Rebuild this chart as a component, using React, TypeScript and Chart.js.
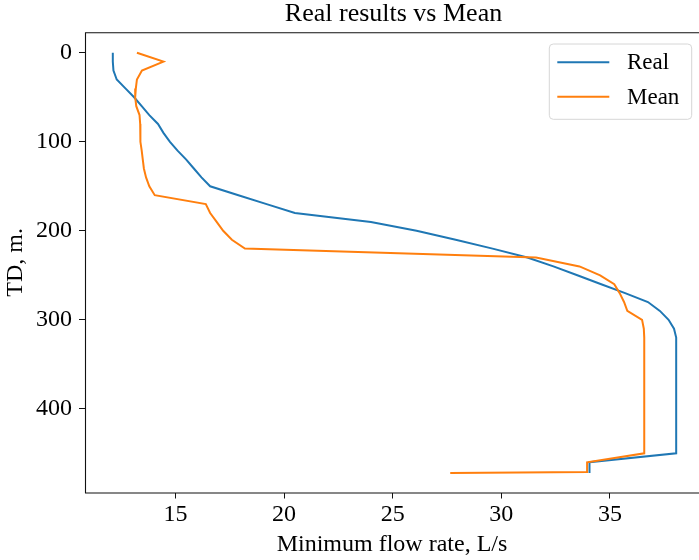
import React, { useEffect, useRef } from "react";
import { Chart, registerables } from "chart.js";

Chart.register(...registerables);

const depths = [
  0, 10, 20, 30, 40, 50, 60, 70, 80, 90, 100, 110, 120, 130, 140, 150, 160, 170, 180, 190,
  200, 210, 220, 230, 240, 250, 260, 270, 280, 290, 300, 310, 320, 330, 340, 350, 360, 370,
  380, 390, 400, 410, 420, 430, 440, 450, 460, 471, 472,
];

const realFlow = [
  12.12, 12.12, 12.15, 12.3, 12.7, 13.1, 13.45, 13.8, 14.2, 14.45, 14.75, 15.1, 15.5, 15.85,
  16.2, 16.6, 17.9, 19.2, 20.5, 24.0, 26.1, 27.9, 29.6, 31.2, 32.4, 33.5, 34.6, 35.7, 36.75,
  37.3, 37.7, 37.95, 38.05, 38.05, 38.05, 38.05, 38.05, 38.05, 38.05, 38.05, 38.05, 38.05,
  38.05, 38.05, 38.05, 38.05, 34.06, 34.06, 34.06,
];

const meanFlow = [
  13.23, 14.45, 13.46, 13.23, 13.18, 13.15, 13.2, 13.35, 13.38, 13.38, 13.4, 13.45, 13.5,
  13.55, 13.65, 13.8, 14.05, 16.4, 16.6, 16.9, 17.2, 17.6, 18.2, 31.6, 33.6, 34.55, 35.2,
  35.45, 35.65, 35.8, 36.48, 36.56, 36.58, 36.58, 36.58, 36.58, 36.58, 36.58, 36.58, 36.58,
  36.58, 36.58, 36.58, 36.58, 36.58, 36.58, 33.95, 33.95, 27.65,
];

const seriesLabels = ["Real", "Mean"];
const seriesColors = ["#1f77b4", "#ff7f0e"];
const titleText = "Real results vs Mean";
const xTitle = "Minimum flow rate, L/s";
const yTitle = "TD, m.";

const FONT = "'Liberation Serif', 'Times New Roman', serif";

const framePlugin = {
  id: "frame",
  afterDraw(chart: any) {
    const { ctx, chartArea } = chart;
    const { left, right, top, bottom } = chartArea;
    ctx.save();
    ctx.strokeStyle = "#111";
    ctx.lineWidth = 1.1;
    ctx.beginPath();
    ctx.moveTo(left + 0.5, top + 0.5);
    ctx.lineTo(right + 2, top + 0.5);
    ctx.moveTo(left + 0.5, top);
    ctx.lineTo(left + 0.5, bottom + 0.5);
    ctx.lineTo(right + 2, bottom + 0.5);
    ctx.stroke();

    // title, centred over the (cropped) axes box
    ctx.fillStyle = "#000";
    ctx.font = `26px ${FONT}`;
    ctx.textAlign = "center";
    ctx.textBaseline = "alphabetic";
    ctx.fillText(titleText, left + 308.5, 21);

    // legend
    const bx = right - 149.7;
    const by = top + 11.7;
    const bw = 142.4;
    const bh = 75.3;
    const r = 4;
    ctx.beginPath();
    ctx.moveTo(bx + r, by);
    ctx.lineTo(bx + bw - r, by);
    ctx.arcTo(bx + bw, by, bx + bw, by + r, r);
    ctx.lineTo(bx + bw, by + bh - r);
    ctx.arcTo(bx + bw, by + bh, bx + bw - r, by + bh, r);
    ctx.lineTo(bx + r, by + bh);
    ctx.arcTo(bx, by + bh, bx, by + bh - r, r);
    ctx.lineTo(bx, by + r);
    ctx.arcTo(bx, by, bx + r, by, r);
    ctx.closePath();
    ctx.fillStyle = "rgba(255,255,255,0.8)";
    ctx.fill();
    ctx.strokeStyle = "#d6d6d6";
    ctx.lineWidth = 1;
    ctx.stroke();

    chart.data.datasets.forEach((ds: any, i: number) => {
      const y = by + 18.3 + i * 34.4;
      ctx.strokeStyle = ds.borderColor;
      ctx.lineWidth = 2;
      ctx.beginPath();
      ctx.moveTo(bx + 8, y);
      ctx.lineTo(bx + 60, y);
      ctx.stroke();
      ctx.fillStyle = "#000";
      ctx.font = `23px ${FONT}`;
      ctx.textBaseline = "middle";
      ctx.textAlign = "left";
      ctx.fillText(ds.label, bx + 77.7, y + 1);
    });
    ctx.restore();
  },
};

export default function App() {
  const ref = useRef<HTMLCanvasElement | null>(null);

  useEffect(() => {
    document.body.style.margin = "0";
    const canvas = ref.current;
    if (!canvas) return;
    Chart.defaults.font.family = FONT;
    Chart.defaults.font.size = 24;
    Chart.defaults.color = "#000";

    const chart = new Chart(canvas, {
      type: "line",
      data: {
        datasets: [
          {
            label: seriesLabels[0],
            data: depths.map((d, i) => ({ x: realFlow[i], y: d })),
            borderColor: seriesColors[0],
            backgroundColor: seriesColors[0],
            borderWidth: 2,
            pointRadius: 0,
            tension: 0,
            fill: false,
            order: 1,
          },
          {
            label: seriesLabels[1],
            data: depths.map((d, i) => ({ x: meanFlow[i], y: d })),
            borderColor: seriesColors[1],
            backgroundColor: seriesColors[1],
            borderWidth: 2,
            pointRadius: 0,
            tension: 0,
            fill: false,
            order: 0,
          },
        ],
      },
      options: {
        responsive: false,
        animation: false,
        devicePixelRatio: 1,
        layout: { padding: { left: 0, right: 0, top: 32.3, bottom: 0 } },
        plugins: {
          legend: { display: false },
          tooltip: { enabled: false },
          title: { display: false },
        },
        scales: {
          x: {
            type: "linear",
            min: 10.84,
            max: 39.1,
            border: { display: false },
            grid: {
              display: true,
              drawOnChartArea: false,
              drawTicks: true,
              tickLength: 6,
              color: "#111",
              lineWidth: 1,
            },
            ticks: { stepSize: 5, includeBounds: false, padding: 2, color: "#000", maxRotation: 0, font: { size: 24 } },
            title: {
              display: true,
              text: xTitle,
              color: "#000",
              font: { family: FONT, size: 24, lineHeight: 1.2 },
              padding: { top: 0, bottom: 1 },
            },
            afterFit(scale: any) {
              scale.height = 67.5;
            },
          },
          y: {
            type: "linear",
            reverse: true,
            min: -23,
            max: 494,
            border: { display: false },
            grid: {
              display: true,
              drawOnChartArea: false,
              drawTicks: true,
              tickLength: 6,
              color: "#111",
              lineWidth: 1,
            },
            ticks: { stepSize: 100, includeBounds: false, padding: 7, color: "#000", font: { size: 24 } },
            title: {
              display: true,
              text: yTitle,
              color: "#000",
              font: { family: FONT, size: 24, lineHeight: 1.2 },
              padding: { top: 1, bottom: 0 },
            },
            afterFit(scale: any) {
              scale.width = 85;
            },
          },
        },
      },
      plugins: [framePlugin],
    });
    return () => chart.destroy();
  }, []);

  return <canvas ref={ref} width={699} height={560} style={{ display: "block" }} />;
}
